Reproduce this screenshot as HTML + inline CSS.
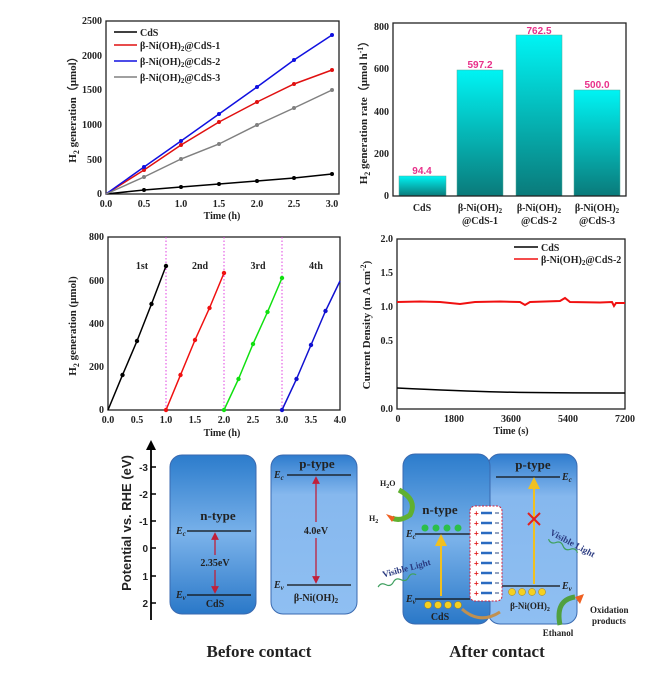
<!DOCTYPE html>
<html><head><meta charset="utf-8"><style>
body{margin:0;background:#fff}
svg{display:block}
text{font-family:"Liberation Serif",serif;font-weight:bold;fill:#222}
text.s{font-family:"Liberation Sans",sans-serif}
</style></head><body>
<svg width="670" height="674" viewBox="0 0 670 674" xmlns="http://www.w3.org/2000/svg">
<defs>
<linearGradient id="bar" x1="0" y1="0" x2="0" y2="1"><stop offset="0" stop-color="#00f4f4"/><stop offset="1" stop-color="#0a7a7a"/></linearGradient>
<linearGradient id="bA" x1="0" y1="0" x2="0" y2="1"><stop offset="0" stop-color="#2c7ccc"/><stop offset="0.5" stop-color="#7ab2ea"/><stop offset="1" stop-color="#2a78c8"/></linearGradient>
<linearGradient id="bB" x1="0" y1="0" x2="0" y2="1"><stop offset="0" stop-color="#2e7cce"/><stop offset="0.25" stop-color="#86b8ee"/><stop offset="1" stop-color="#8fbff2"/></linearGradient>
<marker id="ar" markerWidth="6" markerHeight="6" refX="3" refY="3" orient="auto"><path d="M0,0 L6,3 L0,6z" fill="#c0203a"/></marker>
<marker id="ay" markerWidth="6" markerHeight="6" refX="3" refY="3" orient="auto"><path d="M0,0 L6,3 L0,6z" fill="#f0c020"/></marker>
</defs>
<rect x="0" y="0" width="670" height="674" fill="#fff"/>

<!-- Panel 1 -->
<g font-size="10">
<rect x="106" y="21" width="233" height="173" fill="none" stroke="#222" stroke-width="1.3"/>
<g text-anchor="end">
<text x="102" y="24">2500</text><text x="102" y="59">2000</text><text x="102" y="93">1500</text><text x="102" y="128">1000</text><text x="102" y="163">500</text><text x="102" y="197">0</text>
</g>
<g text-anchor="middle">
<text x="106" y="207">0.0</text><text x="144" y="207">0.5</text><text x="181" y="207">1.0</text><text x="219" y="207">1.5</text><text x="257" y="207">2.0</text><text x="294" y="207">2.5</text><text x="332" y="207">3.0</text>
<text x="222" y="219">Time (h)</text>
</g>
<text transform="translate(76,107) rotate(-90)" text-anchor="middle" font-size="11">H<tspan font-size="8" dy="3">2</tspan><tspan dy="-3"> generation（μmol）</tspan></text>
<g stroke-width="1.5" fill="none">
<polyline stroke="#000" points="106,194 144,190 181,187 219,184 257,181 294,178 332,174"/>
<polyline stroke="#e01010" points="106,194 144,170 181,145 219,122 257,102 294,84 332,70"/>
<polyline stroke="#1010e0" points="106,194 144,167 181,141 219,114 257,87 294,60 332,35"/>
<polyline stroke="#808080" points="106,194 144,177 181,159 219,144 257,125 294,108 332,90"/>
</g>
<g fill="#000"><circle cx="144" cy="190" r="2"/><circle cx="181" cy="187" r="2"/><circle cx="219" cy="184" r="2"/><circle cx="257" cy="181" r="2"/><circle cx="294" cy="178" r="2"/><circle cx="332" cy="174" r="2"/></g>
<g fill="#e01010"><circle cx="144" cy="170" r="2"/><circle cx="181" cy="145" r="2"/><circle cx="219" cy="122" r="2"/><circle cx="257" cy="102" r="2"/><circle cx="294" cy="84" r="2"/><circle cx="332" cy="70" r="2"/></g>
<g fill="#1010e0"><circle cx="144" cy="167" r="2"/><circle cx="181" cy="141" r="2"/><circle cx="219" cy="114" r="2"/><circle cx="257" cy="87" r="2"/><circle cx="294" cy="60" r="2"/><circle cx="332" cy="35" r="2"/></g>
<g fill="#808080"><circle cx="144" cy="177" r="2"/><circle cx="181" cy="159" r="2"/><circle cx="219" cy="144" r="2"/><circle cx="257" cy="125" r="2"/><circle cx="294" cy="108" r="2"/><circle cx="332" cy="90" r="2"/></g>
<g stroke-width="1.5"><line x1="114" y1="32" x2="137" y2="32" stroke="#000"/><line x1="114" y1="45" x2="137" y2="45" stroke="#e01010"/><line x1="114" y1="61" x2="137" y2="61" stroke="#1010e0"/><line x1="114" y1="77" x2="137" y2="77" stroke="#808080"/></g>
<text x="140" y="36">CdS</text>
<text x="140" y="49">β-Ni(OH)<tspan font-size="7" dy="2">2</tspan><tspan dy="-2">@CdS-1</tspan></text>
<text x="140" y="65">β-Ni(OH)<tspan font-size="7" dy="2">2</tspan><tspan dy="-2">@CdS-2</tspan></text>
<text x="140" y="81">β-Ni(OH)<tspan font-size="7" dy="2">2</tspan><tspan dy="-2">@CdS-3</tspan></text>
</g>

<!-- Panel 2 -->
<g font-size="10">
<rect x="399" y="176" width="47" height="20" fill="url(#bar)" stroke="#5a9" stroke-width="0.5"/>
<rect x="457" y="70" width="46" height="126" fill="url(#bar)" stroke="#5a9" stroke-width="0.5"/>
<rect x="516" y="35" width="46" height="161" fill="url(#bar)" stroke="#5a9" stroke-width="0.5"/>
<rect x="574" y="90" width="46" height="106" fill="url(#bar)" stroke="#5a9" stroke-width="0.5"/>
<rect x="393" y="23" width="233" height="173" fill="none" stroke="#222" stroke-width="1.3"/>
<g text-anchor="middle" font-size="10">
<text class="s" x="422" y="174" style="fill:#e8308a">94.4</text><text class="s" x="480" y="68" style="fill:#e8308a">597.2</text><text class="s" x="539" y="34" style="fill:#e8308a">762.5</text><text class="s" x="597" y="88" style="fill:#e8308a">500.0</text>
</g>
<g text-anchor="end"><text x="389" y="30">800</text><text x="389" y="72">600</text><text x="389" y="115">400</text><text x="389" y="157">200</text><text x="389" y="199">0</text></g>
<g text-anchor="middle">
<text x="422" y="211">CdS</text>
<text x="480" y="211">β-Ni(OH)<tspan font-size="7" dy="2">2</tspan></text><text x="480" y="224">@CdS-1</text>
<text x="539" y="211">β-Ni(OH)<tspan font-size="7" dy="2">2</tspan></text><text x="539" y="224">@CdS-2</text>
<text x="597" y="211">β-Ni(OH)<tspan font-size="7" dy="2">2</tspan></text><text x="597" y="224">@CdS-3</text>
</g>
<text transform="translate(367,110) rotate(-90)" text-anchor="middle" font-size="11">H<tspan font-size="8" dy="3">2</tspan><tspan dy="-3"> generation rate（μmol h</tspan><tspan font-size="8" dy="-4">-1</tspan><tspan dy="4">）</tspan></text>
</g>

<!-- Panel 3 -->
<g font-size="10">
<rect x="108" y="237" width="232" height="173" fill="none" stroke="#222" stroke-width="1.3"/>
<g stroke="#e040e0" stroke-dasharray="1.5,2" stroke-width="1"><line x1="166" y1="237" x2="166" y2="410"/><line x1="224" y1="237" x2="224" y2="410"/><line x1="282" y1="237" x2="282" y2="410"/></g>
<g stroke-width="1.5" fill="none">
<polyline stroke="#000" points="108,410 122.5,375 137,341 151.5,304 166,266"/>
<polyline stroke="#f01010" points="166,410 180.5,375 195,340 209.5,308 224,273"/>
<polyline stroke="#10e010" points="224,410 238.5,379 253,344 267.5,312 282,278"/>
<polyline stroke="#1010d0" points="282,410 296.5,379 311,345 325.5,311 340,281"/>
</g>
<g fill="#000"><circle cx="122.5" cy="375" r="2.2"/><circle cx="137" cy="341" r="2.2"/><circle cx="151.5" cy="304" r="2.2"/><circle cx="166" cy="266" r="2.2"/></g>
<g fill="#f01010"><circle cx="166" cy="410" r="2.2"/><circle cx="180.5" cy="375" r="2.2"/><circle cx="195" cy="340" r="2.2"/><circle cx="209.5" cy="308" r="2.2"/><circle cx="224" cy="273" r="2.2"/></g>
<g fill="#10e010"><circle cx="224" cy="410" r="2.2"/><circle cx="238.5" cy="379" r="2.2"/><circle cx="253" cy="344" r="2.2"/><circle cx="267.5" cy="312" r="2.2"/><circle cx="282" cy="278" r="2.2"/></g>
<g fill="#1010d0"><circle cx="282" cy="410" r="2.2"/><circle cx="296.5" cy="379" r="2.2"/><circle cx="311" cy="345" r="2.2"/><circle cx="325.5" cy="311" r="2.2"/></g>
<g text-anchor="middle"><text x="142" y="269">1st</text><text x="200" y="269">2nd</text><text x="258" y="269">3rd</text><text x="316" y="269">4th</text></g>
<g text-anchor="end"><text x="104" y="240">800</text><text x="104" y="284">600</text><text x="104" y="327">400</text><text x="104" y="370">200</text><text x="104" y="413">0</text></g>
<g text-anchor="middle">
<text x="108" y="423">0.0</text><text x="137" y="423">0.5</text><text x="166" y="423">1.0</text><text x="195" y="423">1.5</text><text x="224" y="423">2.0</text><text x="253" y="423">2.5</text><text x="282" y="423">3.0</text><text x="311" y="423">3.5</text><text x="340" y="423">4.0</text>
<text x="222" y="436">Time (h)</text></g>
<text transform="translate(76,326) rotate(-90)" text-anchor="middle" font-size="11">H<tspan font-size="8" dy="3">2</tspan><tspan dy="-3"> generation (μmol)</tspan></text>
</g>

<!-- Panel 4 -->
<g font-size="10">
<rect x="397" y="239" width="228" height="170" fill="none" stroke="#222" stroke-width="1.3"/>
<path d="M397,302 L420,301.5 L440,302 L460,304 L475,302 L500,301.5 L520,302 L525,305 L530,302 L560,301 L565,298 L570,302 L600,302.5 L612,302 L614,306 L616,303 L625,303" stroke="#f01010" stroke-width="2" fill="none"/>
<path d="M397,388 Q460,391 500,392 T625,393" stroke="#000" stroke-width="1.5" fill="none"/>
<line x1="514" y1="247" x2="538" y2="247" stroke="#000" stroke-width="1.5"/>
<line x1="514" y1="259" x2="538" y2="259" stroke="#f01010" stroke-width="1.5"/>
<text x="541" y="251">CdS</text>
<text x="541" y="263">β-Ni(OH)<tspan font-size="7" dy="2">2</tspan><tspan dy="-2">@CdS-2</tspan></text>
<g text-anchor="end"><text x="393" y="242">2.0</text><text x="393" y="276">1.5</text><text x="393" y="310">1.0</text><text x="393" y="344">0.5</text><text x="393" y="412">0.0</text></g>
<g text-anchor="middle"><text x="398" y="422">0</text><text x="454" y="422">1800</text><text x="511" y="422">3600</text><text x="568" y="422">5400</text><text x="625" y="422">7200</text>
<text x="511" y="434">Time (s)</text></g>
<text transform="translate(370,325) rotate(-90)" text-anchor="middle" font-size="11">Current Density (m A cm<tspan font-size="8" dy="-4">-2</tspan><tspan dy="4">)</tspan></text>
</g>

<!-- Bottom: potential axis -->
<line x1="151" y1="620" x2="151" y2="446" stroke="#000" stroke-width="1.8"/>
<path d="M146,450 L151,440 L156,450z" fill="#000"/>
<g stroke="#000" stroke-width="1.5"><line x1="151" y1="467" x2="156" y2="467"/><line x1="151" y1="494" x2="156" y2="494"/><line x1="151" y1="521" x2="156" y2="521"/><line x1="151" y1="548" x2="156" y2="548"/><line x1="151" y1="576" x2="156" y2="576"/><line x1="151" y1="603" x2="156" y2="603"/></g>
<g font-size="10" text-anchor="end"><text class="s" x="148" y="471">-3</text><text class="s" x="148" y="498">-2</text><text class="s" x="148" y="525">-1</text><text class="s" x="148" y="552">0</text><text class="s" x="148" y="580">1</text><text class="s" x="148" y="607">2</text></g>
<text class="s" transform="translate(131,523) rotate(-90)" text-anchor="middle" font-size="13">Potential vs. RHE (eV)</text>

<!-- Before contact -->
<rect x="170" y="455" width="86" height="159" rx="12" fill="url(#bA)" stroke="#3a6ab0"/>
<rect x="271" y="455" width="86" height="159" rx="12" fill="url(#bB)" stroke="#3a6ab0"/>
<text x="218" y="520" text-anchor="middle" font-size="13">n-type</text>
<line x1="187" y1="531" x2="251" y2="531" stroke="#111" stroke-width="1.3"/>
<line x1="187" y1="595" x2="251" y2="595" stroke="#111" stroke-width="1.3"/>
<text x="176" y="534" font-size="10" font-style="italic">E<tspan font-size="7" dy="2">c</tspan></text>
<text x="176" y="598" font-size="10" font-style="italic">E<tspan font-size="7" dy="2">v</tspan></text>
<line x1="215" y1="555" x2="215" y2="536" stroke="#c0203a" stroke-width="1.3" marker-end="url(#ar)"/>
<line x1="215" y1="570" x2="215" y2="590" stroke="#c0203a" stroke-width="1.3" marker-end="url(#ar)"/>
<text x="215" y="566" text-anchor="middle" font-size="10">2.35eV</text>
<text x="215" y="607" text-anchor="middle" font-size="10">CdS</text>
<text x="317" y="468" text-anchor="middle" font-size="13">p-type</text>
<line x1="287" y1="475" x2="351" y2="475" stroke="#111" stroke-width="1.3"/>
<line x1="287" y1="585" x2="351" y2="585" stroke="#111" stroke-width="1.3"/>
<text x="274" y="478" font-size="10" font-style="italic">E<tspan font-size="7" dy="2">c</tspan></text>
<text x="274" y="588" font-size="10" font-style="italic">E<tspan font-size="7" dy="2">v</tspan></text>
<line x1="316" y1="522" x2="316" y2="480" stroke="#c0203a" stroke-width="1.3" marker-end="url(#ar)"/>
<line x1="316" y1="538" x2="316" y2="580" stroke="#c0203a" stroke-width="1.3" marker-end="url(#ar)"/>
<text x="316" y="534" text-anchor="middle" font-size="10">4.0eV</text>
<text x="316" y="601" text-anchor="middle" font-size="10">β-Ni(OH)<tspan font-size="7" dy="2">2</tspan></text>
<text x="259" y="657" text-anchor="middle" font-size="17">Before contact</text>

<!-- After contact -->
<rect x="488" y="454" width="89" height="170" rx="12" fill="url(#bB)" stroke="#3a6ab0"/>
<rect x="403" y="454" width="87" height="170" rx="12" fill="url(#bA)" stroke="#3a6ab0"/>
<text x="440" y="514" text-anchor="middle" font-size="13">n-type</text>
<line x1="415" y1="534" x2="470" y2="534" stroke="#111" stroke-width="1.3"/>
<line x1="415" y1="599" x2="470" y2="599" stroke="#111" stroke-width="1.3"/>
<text x="406" y="537" font-size="10" font-style="italic">E<tspan font-size="7" dy="2">c</tspan></text>
<text x="406" y="602" font-size="10" font-style="italic">E<tspan font-size="7" dy="2">v</tspan></text>
<g fill="#2cbf4a"><circle cx="425" cy="528" r="3.5"/><circle cx="436" cy="528" r="3.5"/><circle cx="447" cy="528" r="3.5"/><circle cx="458" cy="528" r="3.5"/></g>
<g fill="#f5d020" stroke="#b08000" stroke-width="0.5"><circle cx="428" cy="605" r="3.5"/><circle cx="438" cy="605" r="3.5"/><circle cx="448" cy="605" r="3.5"/><circle cx="458" cy="605" r="3.5"/>
<circle cx="512" cy="592" r="3.5"/><circle cx="522" cy="592" r="3.5"/><circle cx="532" cy="592" r="3.5"/><circle cx="542" cy="592" r="3.5"/></g>
<line x1="441" y1="596" x2="441" y2="540" stroke="#f0c020" stroke-width="2" marker-end="url(#ay)"/>
<text x="440" y="620" text-anchor="middle" font-size="10">CdS</text>
<text x="533" y="469" text-anchor="middle" font-size="13">p-type</text>
<line x1="496" y1="477" x2="560" y2="477" stroke="#111" stroke-width="1.3"/>
<line x1="502" y1="586" x2="560" y2="586" stroke="#111" stroke-width="1.3"/>
<text x="562" y="480" font-size="10" font-style="italic">E<tspan font-size="7" dy="2">c</tspan></text>
<text x="562" y="589" font-size="10" font-style="italic">E<tspan font-size="7" dy="2">v</tspan></text>
<line x1="534" y1="584" x2="534" y2="483" stroke="#f0c020" stroke-width="2" marker-end="url(#ay)"/>
<g stroke="#e02020" stroke-width="2"><line x1="528" y1="513" x2="540" y2="525"/><line x1="540" y1="513" x2="528" y2="525"/></g>
<text x="530" y="609" text-anchor="middle" font-size="9">β-Ni(OH)<tspan font-size="6" dy="2">2</tspan></text>
<rect x="470" y="506" width="32" height="95" rx="5" fill="#fff" stroke="#d02040" stroke-dasharray="2,1.5"/>
<g font-size="8">
<text class="s" x="474" y="516" style="fill:#e02020">+</text><text class="s" x="474" y="526" style="fill:#e02020">+</text><text class="s" x="474" y="536" style="fill:#e02020">+</text><text class="s" x="474" y="546" style="fill:#e02020">+</text><text class="s" x="474" y="556" style="fill:#e02020">+</text><text class="s" x="474" y="566" style="fill:#e02020">+</text><text class="s" x="474" y="576" style="fill:#e02020">+</text><text class="s" x="474" y="586" style="fill:#e02020">+</text><text class="s" x="474" y="596" style="fill:#e02020">+</text>
</g>
<g stroke="#2a6ac0" stroke-width="2.5"><line x1="481" y1="513" x2="492" y2="513"/><line x1="481" y1="523" x2="492" y2="523"/><line x1="481" y1="533" x2="492" y2="533"/><line x1="481" y1="543" x2="492" y2="543"/><line x1="481" y1="553" x2="492" y2="553"/><line x1="481" y1="563" x2="492" y2="563"/><line x1="481" y1="573" x2="492" y2="573"/><line x1="481" y1="583" x2="492" y2="583"/><line x1="481" y1="593" x2="492" y2="593"/></g>
<g stroke="#2a4a80" stroke-width="1"><line x1="495" y1="513" x2="499" y2="513"/><line x1="495" y1="523" x2="499" y2="523"/><line x1="495" y1="533" x2="499" y2="533"/><line x1="495" y1="543" x2="499" y2="543"/><line x1="495" y1="553" x2="499" y2="553"/><line x1="495" y1="563" x2="499" y2="563"/><line x1="495" y1="573" x2="499" y2="573"/><line x1="495" y1="583" x2="499" y2="583"/><line x1="495" y1="593" x2="499" y2="593"/></g>
<path d="M399,490 Q418,500 410,515 Q400,522 392,518" stroke="#60b030" stroke-width="5" fill="none"/>
<path d="M395,517 L386,514 L392,522z" fill="#f06020"/>
<text x="380" y="486" font-size="8">H<tspan font-size="6" dy="2">2</tspan><tspan dy="-2">O</tspan></text>
<text x="369" y="521" font-size="8">H<tspan font-size="6" dy="2">2</tspan></text>
<path d="M377,580 q4,-4 8,0 t8,0 t8,0 t8,0 t8,0" stroke="#40a060" stroke-width="1.2" fill="none" transform="rotate(-18 400 580)"/>
<text x="382" y="573" font-size="9" transform="rotate(-15 400 570)" style="fill:#2a3a80">Visible Light</text>
<path d="M545,545 q4,4 8,0 t8,0 t8,0 t8,0" stroke="#40a060" stroke-width="1.2" fill="none" transform="rotate(25 560 550)"/>
<text x="548" y="540" font-size="9" transform="rotate(28 560 540)" style="fill:#2a3a80">Visible Light</text>
<path d="M462,609 Q480,625 500,612" stroke="#c09050" stroke-width="3" fill="none"/>
<path d="M560,625 Q555,600 575,597" stroke="#50a040" stroke-width="5" fill="none"/>
<path d="M575,597 L580,604 L584,594z" fill="#f06020"/>
<text x="590" y="613" font-size="9">Oxidation</text>
<text x="592" y="624" font-size="9">products</text>
<text x="558" y="636" text-anchor="middle" font-size="9">Ethanol</text>
<text x="497" y="657" text-anchor="middle" font-size="17">After contact</text>
</svg>
</body></html>
